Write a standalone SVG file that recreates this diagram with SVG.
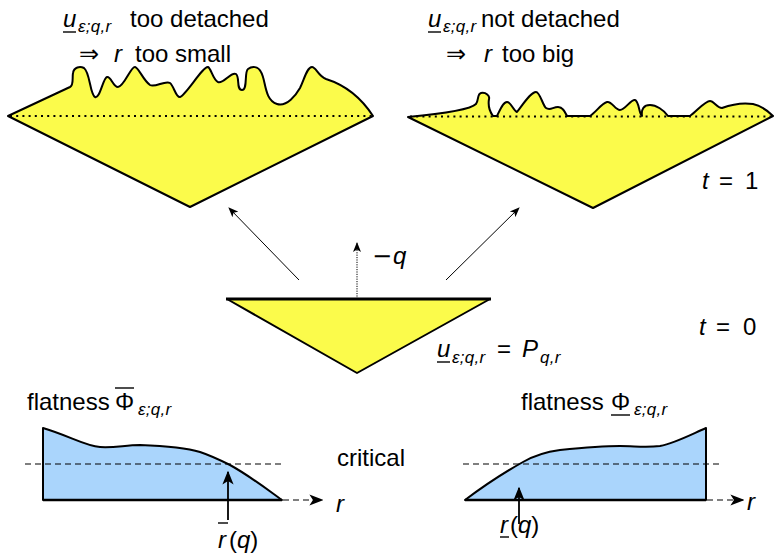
<svg xmlns="http://www.w3.org/2000/svg" width="775" height="553" viewBox="0 0 775 553">
<style>
text{font-family:"Liberation Sans","DejaVu Sans",sans-serif;font-size:24px;fill:#000}
.i{font-style:italic}
.s{font-size:17px;font-style:italic;letter-spacing:0.3px}
.sym{font-family:"DejaVu Sans",sans-serif}
.yel{fill:#fbfb4b;stroke:#000;stroke-width:2;stroke-linejoin:round}
.blu{fill:#aad5fc;stroke:#000;stroke-width:2;stroke-linejoin:round}
.dot{stroke:#000;stroke-width:2.2;stroke-dasharray:2 4.2;fill:none}
.dash{stroke:#000;stroke-width:1.2;stroke-dasharray:6 4;fill:none}
.thin{stroke:#000;stroke-width:1;fill:none}
.bar{stroke:#000;stroke-width:1.4}
</style>
<defs>
<marker id="ah" viewBox="0 0 10 10" refX="9" refY="5" markerWidth="10" markerHeight="10" markerUnits="userSpaceOnUse" orient="auto">
<path d="M0,1 L10,5 L0,9 L2.5,5 Z" fill="#000"/>
</marker>
<marker id="ahb" viewBox="0 0 10 10" refX="9" refY="5" markerWidth="14" markerHeight="14" markerUnits="userSpaceOnUse" orient="auto">
<path d="M0,1 L10,5 L0,9 L2.5,5 Z" fill="#000"/>
</marker>
</defs>

<g id="connectors">
<line class="thin" x1="299" y1="280" x2="229" y2="208" marker-end="url(#ah)"/>
<line class="thin" x1="446" y1="280" x2="519" y2="208" marker-end="url(#ah)"/>
<line x1="357" y1="299" x2="357" y2="243" stroke="#000" stroke-width="1" stroke-dasharray="1.2 1.2" marker-end="url(#ah)"/>
</g>

<g id="wavy-left">
<path class="yel" d="M8,116 L70,87 C74,85 72,78 73,73 C74,67 80,66 84,68 C90,72 90,95 95,97 C100,99 103,78 107,77 C111,76 113,87 118,87 C124,87 131,66 135,67 C139,68 143,80 150,85 C155,88 165,80 170,83 C174,86 176,98 180,97 C186,95 203,66 208,67 C211,68 213,80 218,82 C224,84 231,71 236,74 C240,77 236,90 242,90 C248,90 244,72 248,69 C252,66 258,66 261,72 C266,80 264,100 277,104 C287,107 296,95 300,88 C304,80 307,67 312,67 C316,67 318,76 326,79 C345,85 360,96 373,116 L190,207 Z"/>
<line class="dot" x1="10" y1="116" x2="372" y2="116"/>
</g>

<g id="wavy-right">
<path class="yel" d="M408,117 C440,114 470,110 476,104 C479,100 477,94 481,93 C486,92 490,96 489,99 C488,105 490,112 493,116 L497,116 C500,110 503,102 507,102 C511,102 513,110 517,112 C524,103 531,92 536,92 C540,92 543,106 546,108 C550,111 553,107 558,107 C563,107 565,112 567,116 L590,116 C596,112 602,103 607,102 C612,101 615,110 620,110 C625,110 631,99 635,100 C639,101 639,114 642,116 C641,109 644,105 650,105 C656,105 664,110 668,116 L690,116 C697,111 705,101 710,101 C714,101 717,108 722,108 C730,105 740,102 753,104 C762,106 768,111 773,116 L593,208 Z"/>
<line class="dot" x1="410" y1="116.5" x2="771" y2="116.5"/>
</g>

<g id="triangle-t0">
<path class="yel" d="M227,299 L490,299 L357,373 Z"/>
<line x1="226" y1="299" x2="491" y2="299" stroke="#000" stroke-width="3"/>
</g>

<g id="labels-top">
<text class="i" x="63" y="27">u</text>
<line class="bar" x1="63" y1="32" x2="76" y2="32"/>
<text class="s" x="78" y="32">ε;q,r</text>
<text x="130" y="27">too detached</text>
<text class="sym" x="79" y="62" font-size="28">⇒</text>
<text class="i" x="114" y="62">r</text>
<text x="135" y="62">too small</text>

<text class="i" x="428" y="27">u</text>
<line class="bar" x1="428" y1="32" x2="441" y2="32"/>
<text class="s" x="443" y="32">ε;q,r</text>
<text x="481" y="27">not detached</text>
<text class="sym" x="446" y="62" font-size="28">⇒</text>
<text class="i" x="484" y="62">r</text>
<text x="502" y="62">too big</text>

<text class="i" x="702" y="189">t</text>
<text x="719" y="189">=</text>
<text x="745" y="189">1</text>
</g>

<g id="labels-mid">
<text class="sym" x="372" y="264">−</text>
<text class="i" x="393" y="264">q</text>
<text class="i" x="699" y="335">t</text>
<text x="716" y="335">=</text>
<text x="743" y="335">0</text>
<text class="i" x="437" y="357">u</text>
<line class="bar" x1="437" y1="362" x2="450" y2="362"/>
<text class="s" x="452" y="363">ε;q,r</text>
<text x="497" y="357">=</text>
<text class="i" x="522" y="357">P</text>
<text class="s" x="540" y="363">q,r</text>
</g>

<g id="flatness-left">
<path class="blu" d="M43,500 L43,428 C70,436 85,446 100,447 C115,448 125,445 140,445 C165,446 190,449 200,452 C212,456 222,461 230,465 C250,476 268,490 282,500 Z"/>
<line x1="43" y1="500" x2="282" y2="500" stroke="#000" stroke-width="2.5"/>
<line class="dash" x1="25" y1="464" x2="284" y2="464"/>
<line class="dash" x1="283" y1="500" x2="322" y2="500" marker-end="url(#ahb)"/>
<line x1="228" y1="520" x2="228" y2="472" stroke="#000" stroke-width="1.8" marker-end="url(#ahb)"/>
<text x="27" y="410">flatness</text>
<text x="115" y="410">Φ</text>
<line class="bar" x1="115" y1="388" x2="134" y2="388"/>
<text class="s" x="138" y="415">ε;q,r</text>
<text class="i" x="336" y="512">r</text>
<text class="i" x="218" y="548">r</text>
<line class="bar" x1="218" y1="523" x2="228" y2="523"/>
<text x="229" y="548">(<tspan class="i">q</tspan>)</text>
</g>

<text x="337" y="466">critical</text>

<g id="flatness-right">
<path class="blu" d="M465,500 C485,485 505,472 523,462 C535,455 545,452 560,450 C580,448 600,446 620,446 C635,446 645,448 660,446 C675,443 690,435 706,428 L706,500 Z"/>
<line x1="465" y1="500" x2="706" y2="500" stroke="#000" stroke-width="2.5"/>
<line class="dash" x1="463" y1="464" x2="720" y2="464"/>
<line class="dash" x1="707" y1="500" x2="743" y2="500" marker-end="url(#ahb)"/>
<line x1="519" y1="524" x2="519" y2="488" stroke="#000" stroke-width="1.8" marker-end="url(#ahb)"/>
<text x="521" y="410">flatness</text>
<text x="611" y="410">Φ</text>
<line class="bar" x1="611" y1="415" x2="630" y2="415"/>
<text class="s" x="634" y="415">ε;q,r</text>
<text class="i" x="747" y="510">r</text>
<text class="i" x="500" y="533">r</text>
<line class="bar" x1="500" y1="537" x2="509" y2="537"/>
<text x="510" y="533">(<tspan class="i">q</tspan>)</text>
</g>
</svg>
